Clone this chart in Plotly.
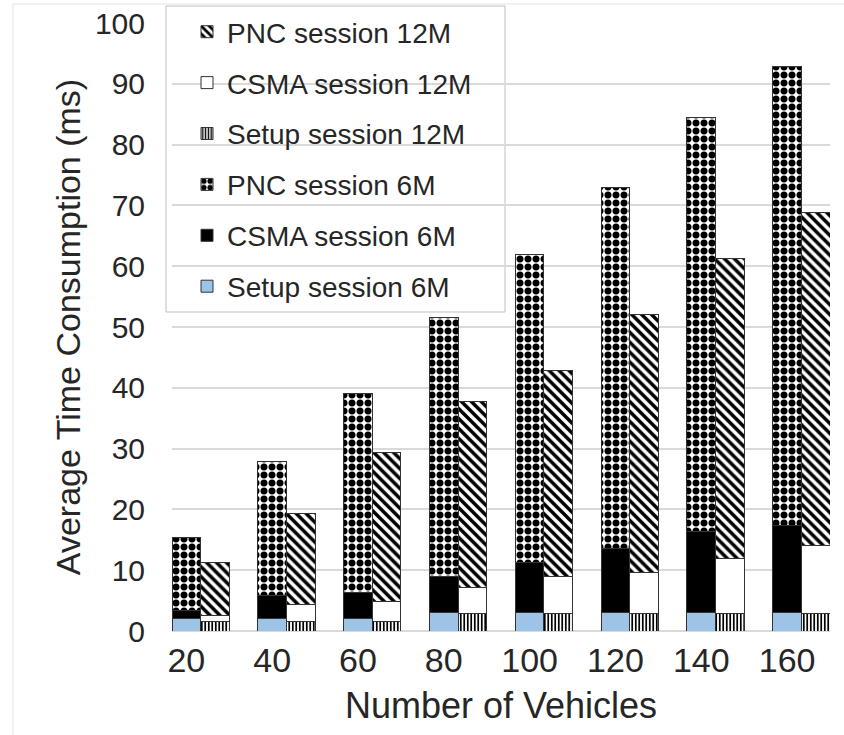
import plotly.graph_objects as go

vehicles = [20, 40, 60, 80, 100, 120, 140, 160]
setup_6m = [2.0, 2.0, 2.0, 3.1, 3.1, 3.1, 3.1, 3.1]
csma_6m = [1.3, 3.8, 4.3, 5.8, 8.1, 10.5, 13.3, 14.2]
pnc_6m = [12.0, 22.0, 32.7, 42.6, 50.8, 59.4, 68.0, 75.5]
setup_12m = [1.6, 1.6, 1.6, 2.8, 2.8, 2.8, 2.8, 2.8]
csma_12m = [1.0, 2.8, 3.3, 4.3, 6.1, 6.9, 9.2, 11.2]
pnc_12m = [8.7, 15.0, 24.5, 30.6, 34.0, 42.4, 49.3, 54.9]

W = 1 / 3  # bar width in category units
idx = list(range(len(vehicles)))
x6 = [i for i in idx]
x12 = [i + W for i in idx]

FONT = "Liberation Sans, Arial, Helvetica, sans-serif"
TXT = "#262626"
EDGE = "#333333"

fig = go.Figure()

def add(name, x, y, color, rank, shape="", size=8, sol=0.5):
    pat = dict(shape=shape)
    if shape:
        pat.update(bgcolor="white", fgcolor="black", fgopacity=1, size=size,
                   solidity=sol, fillmode="replace")
    fig.add_trace(go.Bar(
        name=name, x=x, y=y, width=W, legendgroup=name, legendrank=rank,
        marker=dict(color=color, line=dict(color=EDGE, width=1), pattern=pat),
    ))

add("Setup session 6M", x6, setup_6m, "#9DC3E6", 6)
add("CSMA session 6M", x6, csma_6m, "black", 5)
add("PNC session 6M", x6, pnc_6m, "white", 4, ".", size=8, sol=0.6)
add("Setup session 12M", x12, setup_12m, "white", 3, "|", size=3.5, sol=0.5)
add("CSMA session 12M", x12, csma_12m, "white", 2)
add("PNC session 12M", x12, pnc_12m, "white", 1, "\\", size=7, sol=0.5)

L, R, T, B = 172, 14, 23, 104
PW, PH = 844 - L - R, 735 - T - B

def px(xp):
    return (xp - L) / PW

def py(yp):
    return (735 - B - yp) / PH

shapes = [
    dict(type="rect", xref="paper", yref="paper", x0=px(166), x1=px(505), y0=py(312), y1=py(6),
         fillcolor="white", line=dict(color="#bfbfbf", width=1), layer="between"),
    dict(type="line", xref="paper", yref="paper", x0=px(13), x1=px(13), y0=py(4), y1=py(735),
         line=dict(color="#e3e3e3", width=1)),
    dict(type="line", xref="paper", yref="paper", x0=px(13), x1=px(844), y0=py(4), y1=py(4),
         line=dict(color="#e3e3e3", width=1)),
]

fig.update_layout(
    width=844, height=735,
    margin=dict(l=L, r=R, t=T, b=B, autoexpand=False),
    barmode="stack",
    paper_bgcolor="white", plot_bgcolor="white",
    font=dict(family=FONT, color=TXT),
    showlegend=True,
    legend=dict(
        x=px(187), y=1 - 7 / 735, xanchor="left", yanchor="top", yref="container",
        bgcolor="rgba(0,0,0,0)", borderwidth=0,
        font=dict(size=28, family=FONT, color=TXT),
        traceorder="grouped", tracegroupgap=11.5,
    ),
    shapes=shapes,
    xaxis=dict(
        range=[-W / 2, len(vehicles) - 0.5], tickmode="array", tickvals=x6,
        ticktext=[str(v) for v in vehicles], showgrid=False, zeroline=False,
        showline=False, ticks="", tickfont=dict(size=34), ticklabelstandoff=6,
        title=dict(text="Number of Vehicles", font=dict(size=36), standoff=14),
    ),
    yaxis=dict(
        range=[0, 100], dtick=10, showgrid=True, gridcolor="#d9d9d9", gridwidth=2,
        zeroline=True, zerolinecolor="#d9d9d9", zerolinewidth=2, showline=False, ticks="",
        tickfont=dict(size=30), ticklabelstandoff=26,
        title=dict(text="Average Time Consumption (ms)", font=dict(size=34), standoff=4),
    ),
)

fig.write_html("out.html")
